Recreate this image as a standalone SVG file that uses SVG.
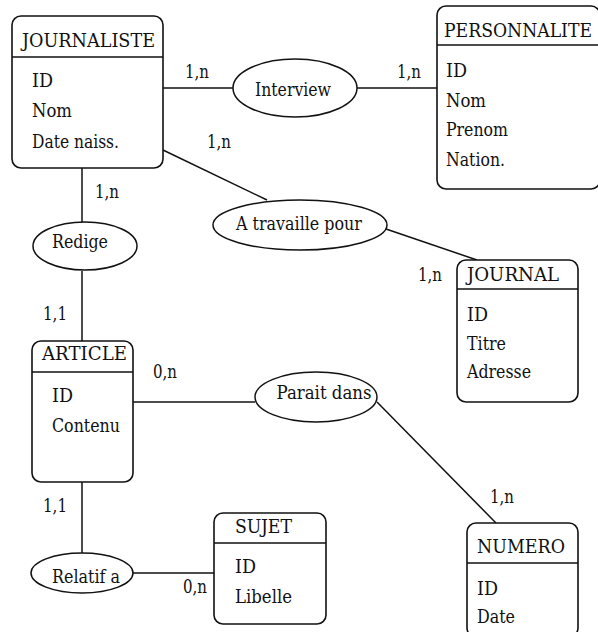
<svg xmlns="http://www.w3.org/2000/svg" width="598" height="632" viewBox="0 0 598 632">
<style>
text{font-family:'DejaVu Serif','Liberation Serif',serif;font-size:18px;fill:#111}
.box{fill:#fff;stroke:#111;stroke-width:1.6}
.sep{stroke:#111;stroke-width:1.6}
.rel{fill:#fff;stroke:#111;stroke-width:1.5}
.c{stroke:#111;stroke-width:1.5;fill:none}
.m{text-anchor:middle}
</style>
<rect width="598" height="632" fill="#fff"/>
<g id="connectors">
<line class="c" x1="163" y1="88" x2="234" y2="88"/>
<line class="c" x1="357" y1="88" x2="437" y2="88"/>
<line class="c" x1="163" y1="150" x2="267" y2="200"/>
<line class="c" x1="386" y1="229" x2="477" y2="260"/>
<line class="c" x1="82" y1="168" x2="82" y2="222"/>
<line class="c" x1="82" y1="271" x2="82" y2="341"/>
<line class="c" x1="133" y1="402" x2="255" y2="402"/>
<line class="c" x1="377" y1="402" x2="496" y2="523"/>
<line class="c" x1="82" y1="482" x2="82" y2="553"/>
<line class="c" x1="133" y1="573" x2="214" y2="573"/>
<text x="185" y="78" textLength="24" lengthAdjust="spacingAndGlyphs">1,n</text>
<text x="397" y="78" textLength="24" lengthAdjust="spacingAndGlyphs">1,n</text>
<text x="207" y="148" textLength="24" lengthAdjust="spacingAndGlyphs">1,n</text>
<text x="418" y="281" textLength="24" lengthAdjust="spacingAndGlyphs">1,n</text>
<text x="95" y="198" textLength="24" lengthAdjust="spacingAndGlyphs">1,n</text>
<text x="43" y="320" textLength="24" lengthAdjust="spacingAndGlyphs">1,1</text>
<text x="153" y="378" textLength="24" lengthAdjust="spacingAndGlyphs">0,n</text>
<text x="490" y="503" textLength="24" lengthAdjust="spacingAndGlyphs">1,n</text>
<text x="43" y="512" textLength="24" lengthAdjust="spacingAndGlyphs">1,1</text>
<text x="183" y="593" textLength="24" lengthAdjust="spacingAndGlyphs">0,n</text>
</g>
<g id="journaliste">
<rect class="box" x="12" y="16" width="151" height="152" rx="9"/>
<line class="sep" x1="12" y1="57" x2="163" y2="57"/>
<text x="22" y="47" textLength="133" lengthAdjust="spacingAndGlyphs">JOURNALISTE</text>
<text x="32" y="87" textLength="21" lengthAdjust="spacingAndGlyphs">ID</text>
<text x="32" y="117" textLength="40" lengthAdjust="spacingAndGlyphs">Nom</text>
<text x="32" y="148" textLength="87" lengthAdjust="spacingAndGlyphs">Date naiss.</text>
</g>
<g id="personnalite">
<rect class="box" x="437" y="6" width="163" height="183" rx="9"/>
<line class="sep" x1="437" y1="45" x2="600" y2="45"/>
<text x="444" y="37" textLength="148" lengthAdjust="spacingAndGlyphs">PERSONNALITE</text>
<text x="446" y="77" textLength="21" lengthAdjust="spacingAndGlyphs">ID</text>
<text x="446" y="107" textLength="40" lengthAdjust="spacingAndGlyphs">Nom</text>
<text x="446" y="136" textLength="62" lengthAdjust="spacingAndGlyphs">Prenom</text>
<text x="446" y="166" textLength="59" lengthAdjust="spacingAndGlyphs">Nation.</text>
</g>
<g id="journal">
<rect class="box" x="457" y="260" width="121" height="142" rx="9"/>
<line class="sep" x1="457" y1="289" x2="578" y2="289"/>
<text x="467" y="281" textLength="92" lengthAdjust="spacingAndGlyphs">JOURNAL</text>
<text x="467" y="321" textLength="21" lengthAdjust="spacingAndGlyphs">ID</text>
<text x="467" y="350" textLength="39" lengthAdjust="spacingAndGlyphs">Titre</text>
<text x="467" y="378" textLength="64" lengthAdjust="spacingAndGlyphs">Adresse</text>
</g>
<g id="article">
<rect class="box" x="32" y="341" width="101" height="141" rx="9"/>
<line class="sep" x1="32" y1="372" x2="133" y2="372"/>
<text x="42" y="360" textLength="85" lengthAdjust="spacingAndGlyphs">ARTICLE</text>
<text x="52" y="402" textLength="21" lengthAdjust="spacingAndGlyphs">ID</text>
<text x="52" y="432" textLength="68" lengthAdjust="spacingAndGlyphs">Contenu</text>
</g>
<g id="sujet">
<rect class="box" x="214" y="513" width="112" height="111" rx="9"/>
<line class="sep" x1="214" y1="543" x2="326" y2="543"/>
<text x="235" y="533" textLength="57" lengthAdjust="spacingAndGlyphs">SUJET</text>
<text x="235" y="573" textLength="21" lengthAdjust="spacingAndGlyphs">ID</text>
<text x="235" y="603" textLength="57" lengthAdjust="spacingAndGlyphs">Libelle</text>
</g>
<g id="numero">
<rect class="box" x="467" y="523" width="111" height="114" rx="9"/>
<line class="sep" x1="467" y1="563" x2="578" y2="563"/>
<text x="477" y="553" textLength="88" lengthAdjust="spacingAndGlyphs">NUMERO</text>
<text x="477" y="595" textLength="21" lengthAdjust="spacingAndGlyphs">ID</text>
<text x="477" y="623" textLength="38" lengthAdjust="spacingAndGlyphs">Date</text>
</g>
<g id="interview">
<ellipse class="rel" cx="295" cy="88" rx="62" ry="29"/>
<text class="m" x="293" y="96" textLength="76" lengthAdjust="spacingAndGlyphs">Interview</text>
</g>
<g id="a-travaille-pour">
<ellipse class="rel" cx="300" cy="225" rx="87" ry="25"/>
<text class="m" x="299" y="230" textLength="126" lengthAdjust="spacingAndGlyphs">A travaille pour</text>
</g>
<g id="redige">
<ellipse class="rel" cx="85" cy="246" rx="52" ry="24"/>
<text class="m" x="80" y="248" textLength="56" lengthAdjust="spacingAndGlyphs">Redige</text>
</g>
<g id="parait-dans">
<ellipse class="rel" cx="316" cy="397" rx="61" ry="25"/>
<text class="m" x="324" y="399" textLength="95" lengthAdjust="spacingAndGlyphs">Parait dans</text>
</g>
<g id="relatif-a">
<ellipse class="rel" cx="82" cy="573" rx="51" ry="20"/>
<text class="m" x="86" y="583" textLength="68" lengthAdjust="spacingAndGlyphs">Relatif a</text>
</g>
</svg>
